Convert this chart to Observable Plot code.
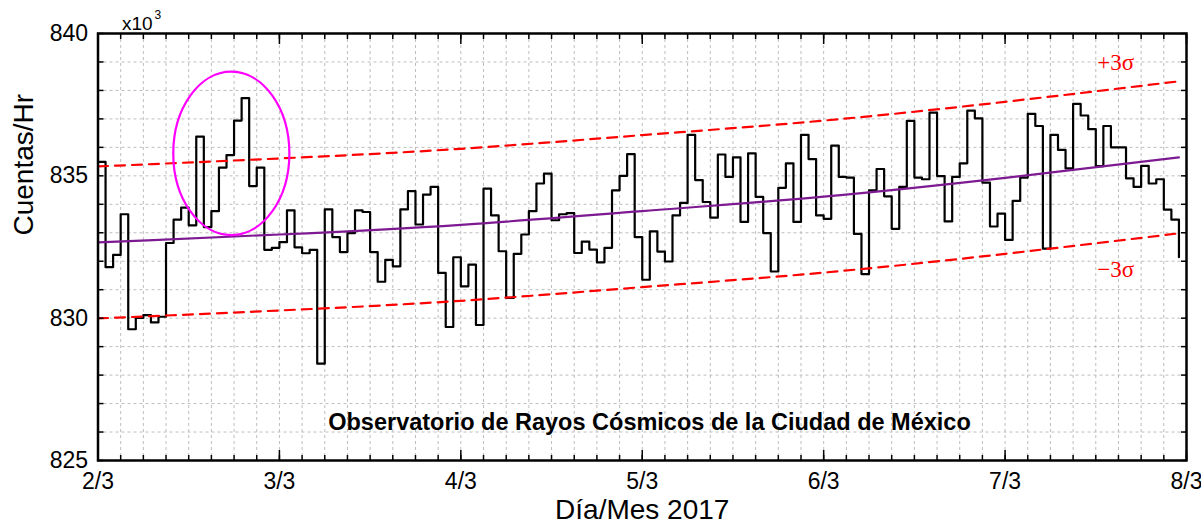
<!DOCTYPE html>
<html>
<head>
<meta charset="utf-8">
<script src="https://cdn.jsdelivr.net/npm/d3@7"></script>
<script src="https://cdn.jsdelivr.net/npm/@observablehq/plot@0.6"></script>
<style>
  body { margin: 0; background: #fff; }
  #chart svg { display: block; }
</style>
</head>
<body>
<div id="chart"></div>
<script>
// Hourly counts (thousands of counts/hr), starting 2/3 00:00, one value per hour
const hourlyCounts = [
  835.49, 831.79, 832.22, 833.65, 829.61, 830.01, 830.11, 829.85, 830.05, 832.64, 833.46, 833.88,
  833.26, 836.38, 833.20, 833.76, 835.29, 835.73, 836.94, 837.73, 834.64, 835.29, 832.40, 832.47,
  832.67, 833.79, 832.49, 832.28, 832.40, 828.40, 833.82, 832.85, 832.32, 832.99, 833.79, 833.73,
  832.32, 831.28, 832.05, 831.82, 833.82, 834.46, 833.29, 834.34, 834.61, 831.59, 829.69, 832.14,
  831.12, 831.88, 829.76, 834.55, 833.61, 832.35, 830.71, 832.26, 832.94, 833.76, 834.73, 835.08,
  833.44, 833.65, 833.69, 832.29, 832.69, 832.41, 831.96, 832.47, 834.49, 835.00, 835.76, 832.85,
  831.35, 833.05, 832.34, 831.99, 833.61, 834.05, 836.44, 834.85, 834.08, 833.53, 835.75, 834.96,
  835.65, 833.38, 835.79, 834.26, 832.99, 831.64, 834.58, 835.44, 833.38, 836.44, 835.59, 833.61,
  833.49, 836.06, 834.96, 834.94, 832.96, 831.55, 834.49, 835.24, 834.28, 833.14, 834.61, 836.93,
  834.94, 834.88, 837.22, 834.99, 833.40, 834.96, 835.44, 837.29, 837.02, 834.76, 833.22, 833.67,
  832.75, 834.12, 834.94, 837.18, 836.75, 832.44, 836.44, 835.91, 835.26, 837.53, 837.12, 836.64,
  835.34, 836.75, 836.00, 836.00, 834.91, 834.61, 835.35, 834.73, 834.88, 833.81, 833.46, 832.14
];

// Fitted trend (purple) and +/-3 sigma limits (red dashed), read at each day
const fitDays    = [0, 1, 2, 3, 4, 5, 5.958];
const fitValues  = [832.66, 832.94, 833.28, 833.76, 834.27, 834.93, 835.65];
const upperValues = [835.33,835.61, 835.95, 836.43, 836.94, 837.60, 838.32];
const lowerValues = [829.99, 830.27, 830.61, 831.09, 831.60, 832.26, 832.98];

// Tick labels
const xTickLabels = ["2/3", "3/3", "4/3", "5/3", "6/3", "7/3", "8/3"];
const yTickLabels = [825, 830, 835, 840];

// Text
const titleText = "Observatorio de Rayos Cósmicos de la Ciudad de México";
const xTitle = "Día/Mes 2017";
const yTitle = "Cuentas/Hr";
const plusLabel = "+3σ";
const minusLabel = "\u22123σ";

// Highlight ellipse (data units: days, thousands)
const ellipse = {cx: 0.7376, cy: 835.77, rx: 0.32, ry: 2.87};

const series = hourlyCounts.map((v, i) => ({day: i / 24, count: v}));
const fitRows = fitDays.map((d, i) => ({day: d, v: fitValues[i]}));
const upperRows = fitDays.map((d, i) => ({day: d, v: upperValues[i]}));
const lowerRows = fitDays.map((d, i) => ({day: d, v: lowerValues[i]}));

const xMajor = d3.range(0, 7);
const xMinor = d3.range(0, 48 + 1).map(k => k / 8);
const yMinor = d3.range(825, 841);

const ellipseMark = (index, scales) => {
  const cx = scales.x(ellipse.cx), cy = scales.y(ellipse.cy);
  const rx = Math.abs(scales.x(ellipse.cx + ellipse.rx) - cx);
  const ry = Math.abs(scales.y(ellipse.cy + ellipse.ry) - cy);
  return d3.create("svg:ellipse")
    .attr("cx", cx).attr("cy", cy).attr("rx", rx).attr("ry", ry)
    .attr("fill", "none").attr("stroke", "#ff00ff").attr("stroke-width", 2.2)
    .node();
};

const gridStyle = {stroke: "#bdbdbd", strokeOpacity: 1, strokeWidth: 1, strokeDasharray: "3,3"};

const chart = Plot.plot({
  width: 1201,
  height: 524,
  marginLeft: 97.5,
  marginRight: 15,
  marginTop: 33,
  marginBottom: 64,
  x: {domain: [0, 6]},
  y: {domain: [825, 840]},
  style: {fontFamily: "'Liberation Sans', Arial, sans-serif", background: "white", overflow: "visible", color: "black"},
  marks: [
    Plot.gridX(xMinor, gridStyle),
    Plot.gridY(yMinor, gridStyle),
    Plot.line(series, {x: "day", y: "count", curve: "step-after", stroke: "black", strokeWidth: 2.2}),
    Plot.line(fitRows, {x: "day", y: "v", curve: "natural", stroke: "#7d1a91", strokeWidth: 2.2}),
    Plot.line(upperRows, {x: "day", y: "v", curve: "natural", stroke: "#ff0000", strokeWidth: 2.2, strokeDasharray: "10,7"}),
    Plot.line(lowerRows, {x: "day", y: "v", curve: "natural", stroke: "#ff0000", strokeWidth: 2.2, strokeDasharray: "10,7"}),
    ellipseMark,
    Plot.axisX(xMinor, {anchor: "bottom", tickSize: -5, text: null, label: null, strokeWidth: 1.5}),
    Plot.axisX(xMajor, {anchor: "bottom", tickSize: -10, text: null, label: null, strokeWidth: 1.5}),
    Plot.axisX(xMinor, {anchor: "top", tickSize: -5, text: null, label: null, strokeWidth: 1.5}),
    Plot.axisX(xMajor, {anchor: "top", tickSize: -10, text: null, label: null, strokeWidth: 1.5}),
    Plot.axisY(yMinor, {anchor: "left", tickSize: -6, text: null, label: null, strokeWidth: 1.5}),
    Plot.axisY(yMinor, {anchor: "right", tickSize: -6, text: null, label: null, strokeWidth: 1.5}),
    Plot.axisX(xMajor, {anchor: "bottom", tickSize: 0, tickPadding: 12, tickFormat: d => xTickLabels[d], fontSize: 23, label: null}),
    Plot.axisY(yTickLabels, {anchor: "left", tickSize: 0, tickPadding: 10, fontSize: 23, label: null}),
    Plot.frame({stroke: "black", strokeWidth: 2.5}),
    Plot.text([titleText], {x: 3.04, y: 826.06, text: d => d, fontWeight: "bold", fontSize: 23.5, lineAnchor: "bottom", fill: "black"}),
    Plot.text([plusLabel], {x: 5.61, y: 838.98, text: d => d, fill: "#ff0000", fontFamily: "'Liberation Serif', 'Times New Roman', serif", fontSize: 23, lineAnchor: "middle"}),
    Plot.text([minusLabel], {x: 5.61, y: 831.71, text: d => d, fill: "#ff0000", fontFamily: "'Liberation Serif', 'Times New Roman', serif", fontSize: 23, lineAnchor: "middle"}),
    Plot.text(["x10"], {frameAnchor: "top-left", text: d => d, textAnchor: "start", lineAnchor: "bottom", dx: 24, dy: -4, fontSize: 19}),
    Plot.text(["3"], {frameAnchor: "top-left", text: d => d, textAnchor: "start", lineAnchor: "bottom", dx: 56.5, dy: -14.7, fontSize: 12}),
    Plot.text([yTitle], {frameAnchor: "left", text: d => d, rotate: -90, lineAnchor: "middle", dx: -73.5, dy: -11.5, fontSize: 28}),
    Plot.text([xTitle], {frameAnchor: "bottom", text: d => d, lineAnchor: "bottom", dy: 58, fontSize: 28})
  ]
});

document.getElementById("chart").append(chart);
</script>
</body>
</html>
